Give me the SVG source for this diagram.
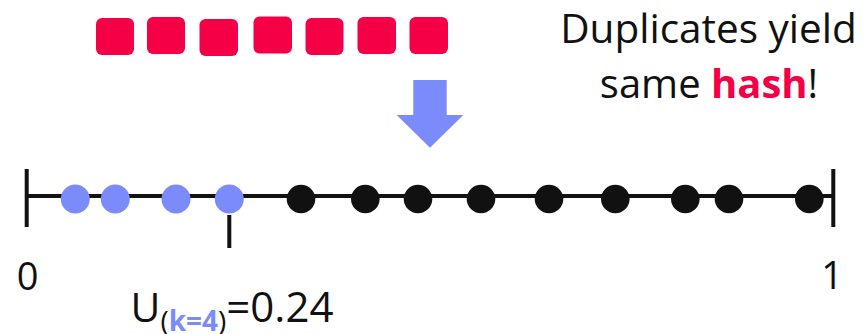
<svg xmlns="http://www.w3.org/2000/svg" width="865" height="334" viewBox="0 0 865 334">
<style>
.sq{fill:#F50046}
.bd{fill:#7B8CFA}
.kd{fill:#111111}
.ln{stroke:#111111;stroke-width:4;fill:none}
.t{font-family:"Open Sans","Noto Sans",sans-serif;fill:#111111}
</style>
<rect width="865" height="334" fill="#ffffff"/>
<g id="squares">
<rect class="sq" x="96" y="18" width="38" height="37" rx="6"/>
<rect class="sq" x="147" y="17" width="38" height="37" rx="6"/>
<rect class="sq" x="199.5" y="19" width="38.5" height="37" rx="6"/>
<rect class="sq" x="253.5" y="16.5" width="38.5" height="37" rx="6"/>
<rect class="sq" x="305.5" y="18" width="38" height="37" rx="6"/>
<rect class="sq" x="357.5" y="17" width="38.5" height="37" rx="6"/>
<rect class="sq" x="409.5" y="17" width="38.5" height="37" rx="6"/>
</g>
<g id="arrow">
<polygon class="bd" points="413.3,80 446.7,80 446.7,115 463.3,115 430,147.7 396.7,115 413.3,115"/>
</g>
<g id="numberline">
<line class="ln" x1="26.7" y1="196" x2="833.3" y2="196"/>
<line class="ln" x1="26.7" y1="169" x2="26.7" y2="227"/>
<line class="ln" x1="833.3" y1="169" x2="833.3" y2="227"/>
<line class="ln" x1="229.3" y1="215" x2="229.3" y2="248"/>
</g>
<g id="dots">
<circle class="bd" cx="75.3" cy="199" r="14.5"/>
<circle class="bd" cx="115.3" cy="199" r="14.5"/>
<circle class="bd" cx="176" cy="199" r="14.5"/>
<circle class="bd" cx="229.3" cy="199" r="14.5"/>
<circle class="kd" cx="301" cy="199" r="14.3"/>
<circle class="kd" cx="365.3" cy="199" r="14.3"/>
<circle class="kd" cx="418" cy="199" r="14.3"/>
<circle class="kd" cx="481" cy="199" r="14.3"/>
<circle class="kd" cx="549" cy="199" r="14.3"/>
<circle class="kd" cx="615.3" cy="199" r="14.3"/>
<circle class="kd" cx="685.3" cy="199" r="14.3"/>
<circle class="kd" cx="729" cy="199" r="14.3"/>
<circle class="kd" cx="809.3" cy="199" r="14.3"/>
</g>
<g id="labels">
<text class="t" x="27.5" y="290" font-size="38" text-anchor="middle">0</text>
<text class="t" x="832" y="289" font-size="38" text-anchor="middle">1</text>
<text class="t" x="130.5" y="321.7" font-size="41">U<tspan dy="9" font-size="28">(</tspan><tspan font-size="28" font-weight="bold" fill="#7B8CFA">k=4</tspan><tspan font-size="28">)</tspan><tspan dy="-9" font-size="42">=0.24</tspan></text>
<text class="t" x="708.5" y="43.3" font-size="40.5" text-anchor="middle">Duplicates yield</text>
<text class="t" x="709" y="97.7" font-size="40" text-anchor="middle">same <tspan font-weight="bold" fill="#F50046">hash</tspan>!</text>
</g>
</svg>
